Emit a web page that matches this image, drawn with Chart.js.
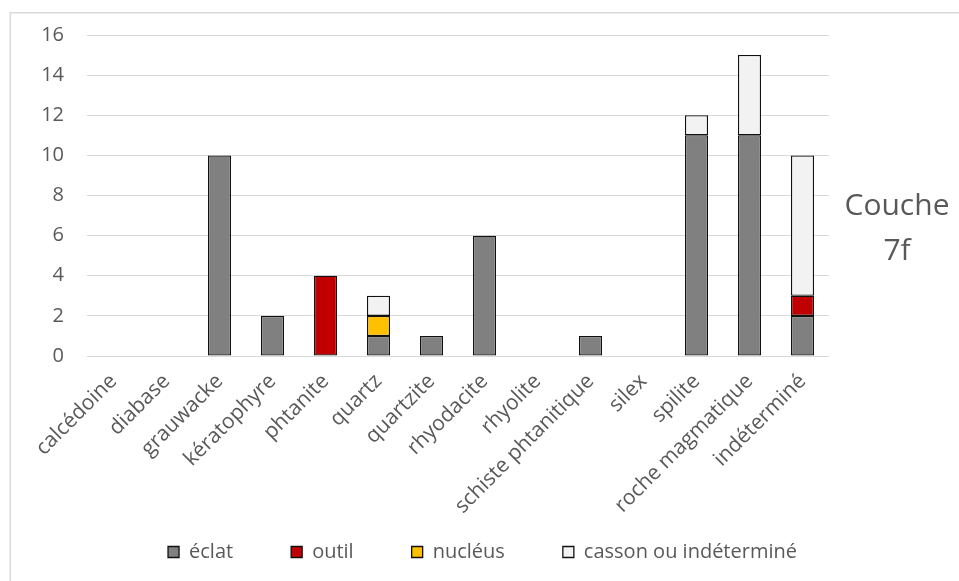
<!DOCTYPE html>
<html><head><meta charset="utf-8">
<script src="https://cdn.jsdelivr.net/npm/chart.js@4/dist/chart.umd.min.js"></script>
<style>html,body{margin:0;padding:0;background:#fff;}#wrap{width:959px;height:581px;position:relative;}</style>
</head><body><div id="wrap"><canvas id="c" width="959" height="581"></canvas></div>
<script>
const categories = ['calcédoine','diabase','grauwacke','kératophyre','phtanite','quartz','quartzite','rhyodacite','rhyolite','schiste phtanitique','silex','spilite','roche magmatique','indéterminé'];
const eclat   = [0,0,10,2,0,1,1,6,0,1,0,11,11,2];
const outil   = [0,0,0,0,4,0,0,0,0,0,0,0,0,1];
const nucleus = [0,0,0,0,0,1,0,0,0,0,0,0,0,0];
const casson  = [0,0,0,0,0,1,0,0,0,0,0,1,4,7];
const seriesNames = ['éclat','outil','nucléus','casson ou indéterminé'];
const yTicks = [0,2,4,6,8,10,12,14,16];
const sideTitle = ['Couche','7f'];

const FONT = "'Open Sans', sans-serif";
const TXT = '#595959';

const framePlugin = {
  id: 'frame',
  beforeDraw(chart) {
    const ctx = chart.ctx;
    ctx.save();
    ctx.fillStyle = '#fff';
    ctx.fillRect(0, 0, chart.width, chart.height);
    ctx.strokeStyle = '#d9d9d9';
    ctx.lineWidth = 1.5;
    ctx.strokeRect(10.25, 12.75, 2000, 2000);
    ctx.restore();
  },
  afterDraw(chart) {
    const ctx = chart.ctx;
    ctx.save();
    ctx.fillStyle = TXT;
    ctx.font = "30px " + FONT;
    ctx.textAlign = 'center';
    ctx.textBaseline = 'alphabetic';
    ctx.fillText(sideTitle[0], 897, 215);
    ctx.fillText(sideTitle[1], 897, 260);
    ctx.restore();
  }
};

const colors = ['#808080', '#C00000', '#FFC000', '#F2F2F2'];
const series = [eclat, outil, nucleus, casson];

new Chart(document.getElementById('c'), {
  type: 'bar',
  data: {
    labels: categories,
    datasets: series.map((d, i) => ({
      label: seriesNames[i],
      data: d,
      backgroundColor: colors[i],
      borderColor: '#111',
      borderWidth: 1.3,
      borderSkipped: false,
      barPercentage: 0.434,
      categoryPercentage: 1.0,
      yAxisID: 'y'
    }))
  },
  options: {
    responsive: false,
    animation: false,
    devicePixelRatio: 1,
    layout: { padding: { left: 6, right: 0, top: 29, bottom: 9 } },
    plugins: {
      legend: {
        position: 'bottom',
        labels: {
          boxWidth: 11, boxHeight: 11, padding: 58,
          color: TXT, font: { family: FONT, size: 20 }
        }
      },
      tooltip: { enabled: false }
    },
    scales: {
      x: {
        stacked: true,
        grid: { display: false, drawTicks: false },
        border: { display: false },
        ticks: {
          color: TXT, font: { family: FONT, size: 21 },
          minRotation: 45, maxRotation: 45, autoSkip: false, padding: 13
        },
        afterFit: s => { s.height = 128; s._computeLabelArea = () => null; }
      },
      y: {
        stacked: true,
        min: 0, max: 16,
        afterBuildTicks: s => { s.ticks = yTicks.map(v => ({ value: v })); },
        grid: { color: '#d9d9d9', lineWidth: 1, drawTicks: false },
        border: { display: false },
        ticks: { color: TXT, font: { family: FONT, size: 20 }, padding: 23 },
        afterFit: s => { s.width = 81; }
      },
      y2: {
        position: 'right',
        min: 0, max: 16,
        grid: { display: false, drawTicks: false },
        border: { display: false },
        ticks: { display: false },
        afterFit: s => { s.width = 130; }
      }
    }
  },
  plugins: [framePlugin]
});
</script></body></html>
